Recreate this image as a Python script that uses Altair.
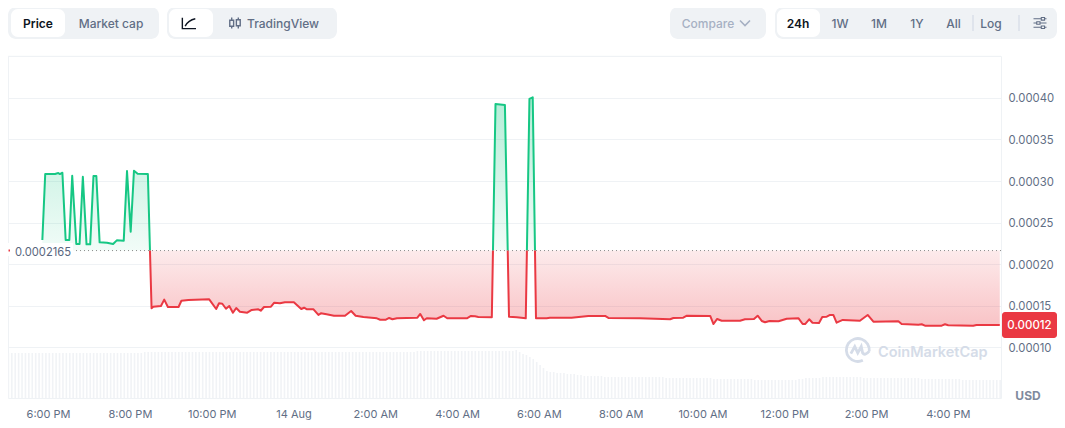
import altair as alt
import pandas as pd

FONT = "Inter"
GREEN = "#16c784"
RED = "#ea3943"
GRID = "#eff2f5"
AXIS_TEXT = "#616e85"

# price series: hours since 13 Aug 00:00, price in units of 1e-5 USD
hours = [17.86,17.93,18.17,18.25,18.29,18.35,18.43,18.52,18.59,18.69,18.77,18.85,18.94,19.03,19.11,19.18,19.26,19.44,19.59,19.68,19.85,19.93,20.02,20.10,20.19,20.44,
         20.53,20.57,20.76,20.84,20.93,21.19,21.26,21.43,21.94,22.11,22.18,22.26,22.35,22.43,22.52,22.60,22.69,22.87,22.98,23.14,23.20,23.28,23.45,23.53,23.67,23.79,
         24.01,24.19,24.26,24.33,24.49,24.61,24.67,24.81,24.99,25.26,25.41,25.52,25.71,26.04,26.12,26.26,26.34,26.42,26.53,26.77,27.03,27.10,27.19,27.26,27.50,27.67,27.76,
         28.24,28.34,28.44,28.52,28.85,28.94,29.17,29.27,29.46,29.68,29.77,29.85,29.93,30.19,30.27,30.80,31.21,31.62,31.70,32.47,33.21,33.29,33.53,33.62,
         34.19,34.27,34.36,34.47,34.92,35.04,35.26,35.35,35.45,35.53,35.64,35.86,36.06,36.35,36.45,36.51,36.61,36.69,36.85,36.93,37.04,37.12,37.20,37.28,37.43,37.85,
         38.04,38.18,38.79,38.87,39.28,39.36,39.44,39.85,39.93,40.01,40.62,40.70,41.27]
prices = [22.92,30.85,30.85,30.97,30.85,31.01,22.92,22.92,30.65,22.44,22.44,30.53,22.40,22.40,30.61,30.61,22.64,22.60,22.44,22.88,22.84,31.21,23.92,31.25,30.89,30.85,
          14.71,14.90,14.99,15.75,14.87,14.87,15.62,15.71,15.79,14.63,15.31,15.26,14.66,14.99,14.18,14.75,14.30,14.18,14.51,14.59,14.42,14.87,14.90,15.38,15.31,15.43,
          15.43,14.63,14.78,14.59,14.59,13.91,14.11,13.99,13.82,13.82,14.39,13.82,13.67,13.51,13.34,13.34,13.55,13.39,13.51,13.55,13.58,14.03,13.27,13.51,13.46,13.82,13.51,
          13.51,13.79,13.75,13.67,13.63,39.27,39.15,13.70,13.63,13.51,39.87,40.07,13.52,13.51,13.58,13.58,13.79,13.79,13.55,13.51,13.39,13.55,13.58,13.82,
          13.79,12.82,13.43,13.22,13.22,13.39,13.43,13.82,13.19,13.03,13.19,13.15,13.46,13.51,12.82,12.82,13.39,12.98,12.94,13.67,13.70,13.91,13.91,12.98,13.31,13.22,
          13.91,13.10,13.15,12.82,12.74,12.79,12.62,12.62,12.79,12.67,12.62,12.70,12.70]
BASE = 21.65

# volume bars, one every five minutes
volume = [45,45,45,45,45,45,45,45,45,45,45,45,45,45,45,45,45,45,45,45,45,45,45,45,45,45,45,45,45,45,
          45,45,45,45,45,45,45,45,45,45,46,46,46,46,46,46,46,46,46,46,46,46,46,46,46,46,46,46,46,46,
          46,46,46,46,46,46,46,46,46,46,46,46,46,46,46,46,46,46,46,46,46,46,46,46,46,46,46,46,46,46,
          46,46,46,46,46,46,46,46,46,46,46,46,46,46,46,46,46,46,46,46,46,46,46,46,46,46,46,46,46,46,
          47,47,47,47,47,47,47,47,47,47,47,47,47,47,47,47,47,47,47,47,47,47,47,47,47,47,47,47,47,
          48,46,44,43,41,39,36,33,30,27,26,26,25,25,25,24,24,24,23,23,
          22,22,22,22,22,22,21,21,21,21,21,21,21,21,21,21,21,21,21,21,21,21,21,21,
          20,20,20,20,20,20,20,20,20,20,20,20,20,20,19,19,19,19,19,19,19,19,19,19,19,19,
          18,18,18,18,18,18,18,18,18,18,18,18,18,19,19,20,20,20,20,20,21,21,21,21,21,
          21,21,21,21,21,21,21,20,20,20,20,20,20,20,20,20,20,20,20,20,20,20,20,20,
          19,19,19,19,19,19,19,19,19,19,19,19,18,18,18,18,18,18,18,18,18,18,18,18]
vol_hours = [17.03 + i / 12 for i in range(len(volume))]

tick_hours = [18, 20, 22, 24, 26, 28, 30, 32, 34, 36, 38, 40]
tick_labels = ["6:00 PM", "8:00 PM", "10:00 PM", "14 Aug", "2:00 AM", "4:00 AM", "6:00 AM",
               "8:00 AM", "10:00 AM", "12:00 PM", "2:00 PM", "4:00 PM"]
price_ticks = [0.0001, 0.00015, 0.0002, 0.00025, 0.0003, 0.00035, 0.0004]

# split at the reference price so each side gets its own colour
t_all, p_all = [], []
for i, (t, p) in enumerate(zip(hours, prices)):
    if i:
        t0, p0 = hours[i - 1], prices[i - 1]
        if (p0 - BASE) * (p - BASE) < 0:
            t_all.append(t0 + (BASE - p0) / (p - p0) * (t - t0))
            p_all.append(BASE)
    t_all.append(t)
    p_all.append(p)

df = pd.DataFrame({
    "t": t_all,
    "base": [BASE * 1e-5] * len(t_all),
    "up": [max(p, BASE) * 1e-5 for p in p_all],
    "down": [min(p, BASE) * 1e-5 for p in p_all],
    "upline": [p * 1e-5 if p >= BASE else None for p in p_all],
    "downline": [p * 1e-5 if p <= BASE else None for p in p_all],
})
vol_df = pd.DataFrame({"t": vol_hours, "v": volume})

W, H = 993, 342
OX, OY = 8, 56
xs = alt.Scale(domain=[17.02, 41.30], nice=False, zero=False)
ys = alt.Scale(domain=[0.0000393, 0.00045036], nice=False, zero=False)
vs = alt.Scale(domain=[0, 60], range=[H, H - 60], nice=False, zero=False)
lookup = "[" + ",".join(f"'{l}'" for l in tick_labels) + "][indexof([" + ",".join(str(h) for h in tick_hours) + "],datum.value)]"
x_axis = alt.X("t:Q", scale=xs, title=None, axis=alt.Axis(
    values=tick_hours, labelExpr=lookup, grid=False, ticks=False, domain=False,
    labelFont=FONT, labelFontSize=11, labelColor=AXIS_TEXT, labelPadding=10,
    labelOverlap=False, labelFlush=False, labelBound=False))
y_axis = alt.Y("down:Q", scale=ys, title=None, axis=alt.Axis(
    orient="right", values=price_ticks, format=".5f", grid=True, gridColor=GRID, gridWidth=1,
    ticks=False, domain=False, labelFont=FONT, labelFontSize=11.3, labelColor=AXIS_TEXT,
    labelPadding=7, labelOffset=1, labelOverlap=False, labelBound=False, labelFlush=False))


def grad(stops):
    return alt.Gradient(gradient="linear", x1=0, x2=0, y1=0, y2=1,
                        stops=[alt.GradientStop(color=c, offset=o) for c, o in stops])


one = pd.DataFrame({"a": [0]})


def rect(x0, y0, x1, y1, color, radius=0):
    return alt.Chart(one).mark_rect(color=color, cornerRadius=radius, opacity=1).encode(
        x=alt.value(x0 - OX), x2=alt.value(x1 - OX), y=alt.value(y0 - OY), y2=alt.value(y1 - OY))


def label(s, x, y, color, size=12, weight=500, align="center"):
    return alt.Chart(one).mark_text(text=s, font=FONT, fontSize=size, fontWeight=weight, color=color,
                                    align=align, baseline="middle").encode(
        x=alt.value(x - OX), y=alt.value(y - OY))


def icon(path, x, y, span, color, width=1.4):
    return alt.Chart(one).mark_point(shape=path, size=span * span, filled=False, stroke=color,
                                     strokeWidth=width, opacity=1).encode(
        x=alt.value(x - OX), y=alt.value(y - OY))


red_area = alt.Chart(df).mark_area(
    color=grad([("rgba(234,57,67,0.10)", 0), ("rgba(234,57,67,0.30)", 1)])).encode(
    x=x_axis, y=y_axis, y2="base:Q")
green_area = alt.Chart(df).mark_area(
    color=grad([("rgba(22,199,132,0.32)", 0), ("rgba(22,199,132,0.06)", 1)])).encode(
    x=x_axis, y=alt.Y("up:Q", scale=ys, axis=None), y2="base:Q")
top_grid = alt.Chart(pd.DataFrame({"p": [0.00045]})).mark_rule(color=GRID).encode(
    y=alt.Y("p:Q", scale=ys, axis=None))
vol_bars = alt.Chart(vol_df).mark_rule(color="#f1f3f6", strokeWidth=1.6).encode(
    x=x_axis, y=alt.Y("v:Q", scale=vs, axis=None), y2=alt.value(H))
green_line = alt.Chart(df).mark_line(color=GREEN, strokeWidth=2, strokeJoin="round").encode(
    x=x_axis, y=alt.Y("upline:Q", scale=ys, axis=None))
red_line = alt.Chart(df).mark_line(color=RED, strokeWidth=2, strokeJoin="round").encode(
    x=x_axis, y=alt.Y("downline:Q", scale=ys, axis=None))
base_rule = alt.Chart(pd.DataFrame({"p": [BASE * 1e-5]})).mark_rule(
    color="#8a8a8a", strokeWidth=1, strokeDash=[1, 3]).encode(
    y=alt.Y("p:Q", scale=ys, axis=None), x=alt.value(76 - OX), x2=alt.value(W))

CANDLE = ("M-0.6,-1V-0.5M-0.6,0.6V1M-0.95,-0.5H-0.25V0.6H-0.95Z"
          "M0.6,-1V-0.6M0.6,0.5V1M0.25,-0.6H0.95V0.5H0.25Z")
SLIDERS = ("M-1,-0.65H0.2M0.7,-0.65H1M-1,0H-0.5M0,0H1M-1,0.65H0.2M0.7,0.65H1"
           "M0.2,-0.85H0.7V-0.45H0.2ZM-0.5,-0.2H0V0.2H-0.5ZM0.2,0.45H0.7V0.85H0.2Z")
LOGO = ("M0.98,0.1A1,1 0 1 0 0.42,0.9"
        "M-0.62,0.32L-0.28,-0.3L-0.02,0.25L0.28,-0.3L0.4,0.25Q0.6,0.55 0.98,0.1")

TY = 23.5
ui = [
    rect(8, 7, 159, 39, GRID, 8), rect(11, 9, 65, 37, "#ffffff", 7),
    label("Price", 38, TY, "#0d1421", 12, 600), label("Market cap", 111, TY, AXIS_TEXT),
    rect(167, 7, 337, 39, GRID, 8), rect(169, 9, 213, 37, "#ffffff", 7),
    icon("M-0.95,-0.75V0.8H1M-0.55,0.45Q-0.1,-0.4 0.9,-0.6", 189, 23, 14, "#0d1421"),
    icon(CANDLE, 235, 23, 11, AXIS_TEXT), label("TradingView", 283, TY, AXIS_TEXT),
    rect(670, 7, 766, 39, GRID, 8), label("Compare", 708, TY, "#a6b0c3"),
    icon("M-1,-0.5L0,0.5L1,-0.5", 745, 23, 10, "#a6b0c3", 1.6),
    rect(775, 7, 1057, 39, GRID, 8), rect(777, 9, 820, 37, "#ffffff", 7),
    label("24h", 798, TY, "#0d1421", 12, 600), label("1W", 840, TY, AXIS_TEXT),
    label("1M", 879, TY, AXIS_TEXT), label("1Y", 917, TY, AXIS_TEXT),
    label("All", 953.5, TY, AXIS_TEXT), rect(972.5, 15, 973.5, 31, "#cfd6e4"),
    label("Log", 991, TY, AXIS_TEXT), rect(1018.5, 15, 1019.5, 31, "#cfd6e4"),
    icon(SLIDERS, 1040, 23, 13, AXIS_TEXT, 1.1),
]
overlay = [
    rect(8, 243, 73, 256, "#ffffff"), rect(8.5, 249.5, 10, 251.5, RED),
    label("0.0002165", 15, 253, "#58667e", 11.2, 400, "left"),
    rect(1002, 312, 1057, 338, RED, 3), label("0.00012", 1029.5, 326, "#ffffff", 11.5, 500),
    label("USD", 1028, 396, "#808a9d", 12, 700),
    icon(LOGO, 858, 350, 23, "#d5dce8", 2.8), label("CoinMarketCap", 878, 352.5, "#d5dce8", 14.5, 600, "left"),
]

chart = alt.layer(
    red_area, top_grid, vol_bars, green_area, green_line, red_line, base_rule, *overlay, *ui
).resolve_scale(y="independent").properties(
    width=W, height=H,
    autosize=alt.AutoSizeParams(type="none"),
    padding={"left": 0, "top": 48, "right": 56, "bottom": 22},
    background="#ffffff",
).configure_view(stroke=GRID, strokeWidth=1)

chart.save("out.html", embed_options={"renderer": "svg", "actions": False})
